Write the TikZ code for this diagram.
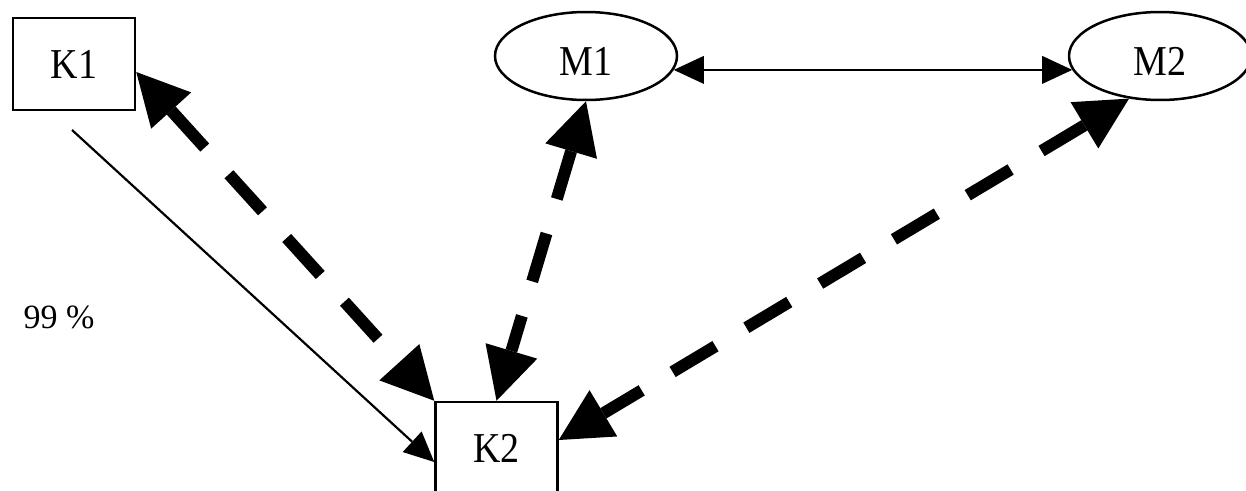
\documentclass[tikz,border=0pt]{standalone}
\usepackage{fontspec}
\setmainfont{Liberation Serif}
\usetikzlibrary{arrows.meta,shapes.geometric,calc}
\newcommand\tallTxt[1]{\scalebox{1}[1.12]{#1}}
\begin{document}
\begin{tikzpicture}[x=1pt,y=-1pt,
  box/.style={draw, line width=2.5pt, minimum width=122pt, minimum height=92pt, inner sep=0pt, font=\fontsize{38}{40}\selectfont},
  oval/.style={draw, ellipse, line width=2.5pt, minimum width=182pt, minimum height=88pt, inner sep=0pt, font=\fontsize{38}{40}\selectfont},
  big/.style={line width=12pt, dash pattern=on 50pt off 36pt, {Triangle[length=52pt,width=54pt,line width=0pt]}-{Triangle[length=52pt,width=54pt,line width=0pt]}},
  thin/.style={line width=2.2pt, -{Triangle[length=30pt,width=28pt,line width=0pt]}},
  thinboth/.style={line width=2.2pt, {Triangle[length=30pt,width=28pt,line width=0pt]}-{Triangle[length=30pt,width=28pt,line width=0pt]}},
  pct/.style={font=\fontsize{34}{36}\selectfont, inner sep=0pt}
]
\useasboundingbox (0,0) rectangle (1246,490);
\node[box] (K1) at (74,64) {\tallTxt{K1}};
\node[box] (K2) at (496.5,448) {\tallTxt{K2}};
\node[oval] (M1) at (586,56) {\raisebox{-5pt}[\height][0pt]{\tallTxt{M1}}};
\node[oval] (M2) at (1160,56) {\raisebox{-5pt}[\height][0pt]{\tallTxt{M2}}};
\node[pct] (p) at (59,317) {99 \%};
\coordinate (s) at (72,130);
\draw[thin] (s) -- ($(K2.west)+(0,14)$);
\draw[thinboth] (M1.-9.2) -- (M2.189.2);
\draw[big] ($(K1.east)+(0,8)$) -- (K2.north west);
\draw[big] (M1.south) -- (K2.north);
\draw[big] (M2.234) -- ($(K2.east)+(0,-8)$);
\end{tikzpicture}
\end{document}
